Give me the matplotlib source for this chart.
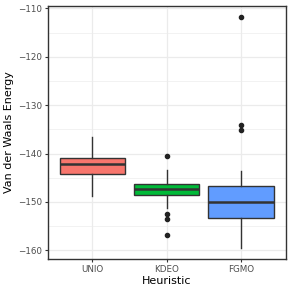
import matplotlib
matplotlib.use("Agg")
import matplotlib.pyplot as plt
from matplotlib.ticker import MultipleLocator

categories = ["UNIO", "KDEO", "FGMO"]
colors = ["#F8766D", "#00BA38", "#619CFF"]
q1 = [-144.3, -148.6, -153.4]
medians = [-142.2, -147.4, -150.1]
q3 = [-141.0, -146.2, -146.7]
whislo = [-148.8, -151.3, -159.6]
whishi = [-136.5, -143.4, -143.6]
outliers = [[], [-140.5, -152.5, -153.5, -156.8], [-111.7, -134.1, -135.2]]

fig = plt.figure(figsize=(2.91, 2.91), dpi=100)
ax = fig.add_axes([0.164, 0.110, 0.818, 0.870])

stats = []
for i, c in enumerate(categories):
    stats.append(dict(label=c, med=medians[i], q1=q1[i], q3=q3[i],
                      whislo=whislo[i], whishi=whishi[i], fliers=outliers[i]))

pos = [1, 2, 3]
bp = ax.bxp(stats, positions=pos, widths=0.88, patch_artist=True, showcaps=False,
            boxprops=dict(edgecolor="#333333", linewidth=1.0),
            medianprops=dict(color="#333333", linewidth=1.8),
            whiskerprops=dict(color="#333333", linewidth=1.0),
            flierprops=dict(marker="o", markerfacecolor="#222222", markeredgecolor="#222222",
                            markersize=3.0, linestyle="none"))
for patch, col in zip(bp["boxes"], colors):
    patch.set_facecolor(col)

ax.set_xlim(0.4, 3.6)
ax.set_ylim(-161.8, -109.46)
ax.yaxis.set_major_locator(MultipleLocator(10))
ax.yaxis.set_minor_locator(MultipleLocator(5))
ax.set_xticks(pos)
ax.set_xticklabels(categories)
ax.grid(True, which="major", color="#EBEBEB", linewidth=0.9)
ax.grid(True, which="minor", axis="y", color="#EBEBEB", linewidth=0.45)
ax.set_axisbelow(True)
for s in ax.spines.values():
    s.set_color("#333333")
    s.set_linewidth(1.0)
ax.tick_params(which="major", length=2.5, width=0.8, color="#333333",
               labelsize=6.3, labelcolor="#4D4D4D", pad=1.5)
ax.tick_params(which="minor", length=0)
ax.set_xlabel("Heuristic", fontsize=8, labelpad=2)
ax.set_ylabel("Van der Waals Energy", fontsize=8, labelpad=3)

fig.savefig("out.png", dpi=100)
